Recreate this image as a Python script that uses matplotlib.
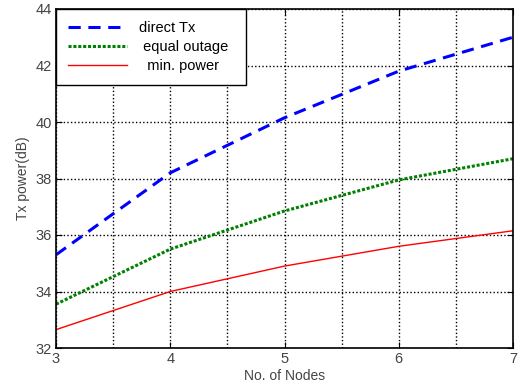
import numpy as np
import matplotlib.pyplot as plt
from matplotlib.ticker import MultipleLocator

plt.rcParams['font.family'] = ['Liberation Sans', 'DejaVu Sans']

nodes = [3, 4, 5, 6, 7]
direct_tx = [35.3, 38.2, 40.15, 41.8, 43.0]
equal_outage = [33.55, 35.5, 36.85, 37.95, 38.7]
min_power = [32.65, 34.0, 34.9, 35.6, 36.15]

fig = plt.figure(figsize=(5.21, 3.87), dpi=100)
ax = fig.add_axes([56 / 521, 1 - 348 / 387, (513 - 56) / 521, (348 - 9) / 387])

ax.plot(nodes, direct_tx, color='#0000ff', linestyle=(0, (4, 2.5)), linewidth=2.2, label='direct Tx')
ax.plot(nodes, equal_outage, color='#008000', linestyle=(0, (1, 0.6)), linewidth=2.2, label=' equal outage')
ax.plot(nodes, min_power, color='#ff0000', linewidth=1.0, label='  min. power')

ax.set_xlim(3, 7)
ax.set_ylim(32, 44)
ax.xaxis.set_major_locator(MultipleLocator(1))
ax.xaxis.set_minor_locator(MultipleLocator(0.5))
ax.yaxis.set_major_locator(MultipleLocator(2))
ax.grid(True, which='both', axis='x', color='black', linestyle=(0, (1, 1.6)), linewidth=1.0)
ax.grid(True, which='major', axis='y', color='black', linestyle=(0, (1, 1.6)), linewidth=1.0)
ax.tick_params(which='both', direction='in', top=True, right=True, labelsize=10.5,
               labelcolor='#444444', length=4, pad=3)
ax.tick_params(which='minor', length=0)
for s in ax.spines.values():
    s.set_linewidth(1.2)

ax.set_xlabel('No. of Nodes', fontsize=10, color='#444444', labelpad=2)
ax.set_ylabel('Tx power(dB)', fontsize=10, color='#444444', labelpad=4)

leg = ax.legend(loc='upper left', bbox_to_anchor=(0, 1, 190 / 457, 0), mode='expand',
                fancybox=False, framealpha=1, edgecolor='black',
                fontsize=10.5, borderaxespad=0, borderpad=0.8, handlelength=4.1,
                handletextpad=0.8, labelspacing=0.35)
leg.get_frame().set_linewidth(1.0)

fig.savefig('out.png', dpi=100)
